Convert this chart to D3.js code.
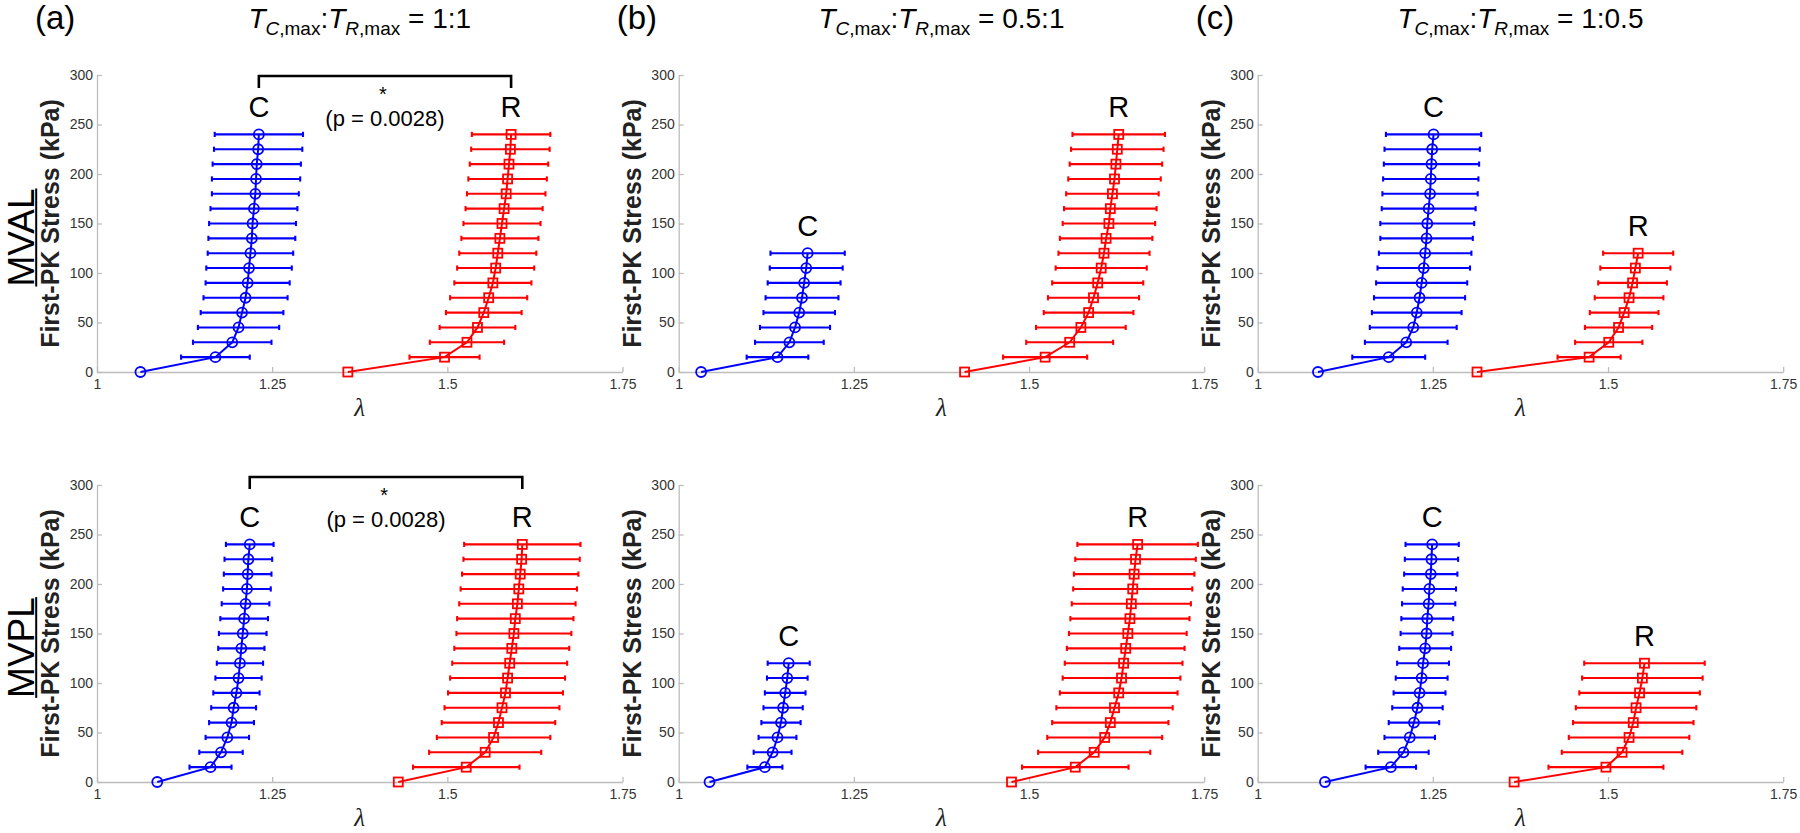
<!DOCTYPE html>
<html>
<head>
<meta charset="utf-8">
<script src="https://cdn.jsdelivr.net/npm/d3@7"></script>
<style>
  body { margin: 0; background: #fff; }
  text { font-family: "Liberation Sans", Arial, Helvetica, sans-serif; }
</style>
</head>
<body>
<script>
// stress levels (kPa) at which stretch was sampled
const stressFull = [0, 15, 30, 45, 60, 75, 90, 105, 120, 135, 150, 165, 180, 195, 210, 225, 240];
const stressHalf = [0, 15, 30, 45, 60, 75, 90, 105, 120];

const xTicks = [1, 1.25, 1.5, 1.75];
const yTicks = [0, 50, 100, 150, 200, 250, 300];
const rowNames = ['MVAL', 'MVPL'];
const colLetters = ['(a)', '(b)', '(c)'];
const ratioC = ['1', '0.5', '1'];
const ratioR = ['1', '1', '0.5'];
const pText = '(p = 0.0028)';

// (a) MVAL, 1:1
const mvalC_a    = [1.062, 1.169, 1.193, 1.202, 1.207, 1.212, 1.215, 1.217, 1.219, 1.221, 1.222, 1.224, 1.226, 1.227, 1.228, 1.230, 1.231];
const mvalCErr_a = [null, 0.049, 0.056, 0.058, 0.059, 0.060, 0.060, 0.061, 0.061, 0.062, 0.062, 0.062, 0.062, 0.063, 0.063, 0.063, 0.063];
const mvalR_a    = [1.358, 1.496, 1.528, 1.543, 1.552, 1.559, 1.565, 1.569, 1.572, 1.575, 1.578, 1.581, 1.584, 1.586, 1.588, 1.590, 1.591];
const mvalRErr_a = [null, 0.050, 0.053, 0.054, 0.054, 0.055, 0.055, 0.055, 0.055, 0.055, 0.055, 0.055, 0.056, 0.056, 0.056, 0.056, 0.056];

// (b) MVAL, 0.5:1
const mvalC_b    = [1.032, 1.141, 1.158, 1.166, 1.172, 1.176, 1.179, 1.182, 1.184];
const mvalCErr_b = [null, 0.044, 0.049, 0.050, 0.051, 0.052, 0.052, 0.052, 0.053];
const mvalR_b    = [1.408, 1.523, 1.558, 1.574, 1.585, 1.592, 1.598, 1.603, 1.607, 1.610, 1.614, 1.616, 1.619, 1.622, 1.624, 1.626, 1.628];
const mvalRErr_b = [null, 0.060, 0.062, 0.064, 0.064, 0.065, 0.065, 0.065, 0.065, 0.066, 0.066, 0.066, 0.066, 0.066, 0.066, 0.066, 0.066];

// (c) MVAL, 1:0.5
const mvalC_c    = [1.086, 1.187, 1.212, 1.222, 1.227, 1.231, 1.234, 1.237, 1.239, 1.241, 1.242, 1.244, 1.246, 1.247, 1.248, 1.249, 1.251];
const mvalCErr_c = [null, 0.052, 0.059, 0.062, 0.064, 0.065, 0.065, 0.066, 0.066, 0.066, 0.067, 0.067, 0.068, 0.068, 0.068, 0.068, 0.068];
const mvalR_c    = [1.313, 1.473, 1.501, 1.515, 1.523, 1.530, 1.535, 1.539, 1.543];
const mvalRErr_c = [null, 0.045, 0.048, 0.048, 0.049, 0.049, 0.049, 0.050, 0.050];

// (a) MVPL, 1:1
const mvplC_a    = [1.086, 1.162, 1.177, 1.186, 1.192, 1.195, 1.199, 1.202, 1.204, 1.206, 1.208, 1.210, 1.212, 1.214, 1.215, 1.216, 1.218];
const mvplCErr_a = [null, 0.030, 0.031, 0.031, 0.032, 0.032, 0.033, 0.033, 0.033, 0.033, 0.034, 0.034, 0.034, 0.034, 0.034, 0.034, 0.034];
const mvplR_a    = [1.430, 1.527, 1.554, 1.566, 1.573, 1.578, 1.583, 1.586, 1.589, 1.592, 1.595, 1.597, 1.600, 1.602, 1.604, 1.606, 1.607];
const mvplRErr_a = [null, 0.076, 0.080, 0.081, 0.081, 0.082, 0.082, 0.082, 0.082, 0.082, 0.082, 0.083, 0.083, 0.083, 0.083, 0.083, 0.083];

// (b) MVPL, 0.5:1
const mvplC_b    = [1.044, 1.123, 1.134, 1.141, 1.146, 1.149, 1.152, 1.155, 1.157];
const mvplCErr_b = [null, 0.025, 0.027, 0.027, 0.028, 0.028, 0.029, 0.029, 0.030];
const mvplR_b    = [1.475, 1.566, 1.593, 1.608, 1.616, 1.622, 1.628, 1.632, 1.635, 1.638, 1.641, 1.644, 1.646, 1.648, 1.650, 1.652, 1.655];
const mvplRErr_b = [null, 0.076, 0.080, 0.082, 0.083, 0.083, 0.084, 0.084, 0.084, 0.084, 0.084, 0.085, 0.085, 0.085, 0.086, 0.086, 0.086];

// (c) MVPL, 1:0.5
const mvplC_c    = [1.096, 1.190, 1.208, 1.217, 1.223, 1.228, 1.231, 1.234, 1.236, 1.239, 1.241, 1.242, 1.244, 1.245, 1.247, 1.248, 1.249];
const mvplCErr_c = [null, 0.036, 0.036, 0.036, 0.036, 0.036, 0.037, 0.037, 0.037, 0.037, 0.037, 0.037, 0.038, 0.038, 0.038, 0.038, 0.038];
const mvplR_c    = [1.366, 1.497, 1.520, 1.530, 1.536, 1.540, 1.545, 1.549, 1.552];
const mvplRErr_c = [null, 0.082, 0.086, 0.086, 0.086, 0.086, 0.086, 0.086, 0.086];

const panels = [
  { row: 0, col: 0, c: mvalC_a, cErr: mvalCErr_a, cS: stressFull, r: mvalR_a, rErr: mvalRErr_a, rS: stressFull, sig: true },
  { row: 0, col: 1, c: mvalC_b, cErr: mvalCErr_b, cS: stressHalf, r: mvalR_b, rErr: mvalRErr_b, rS: stressFull },
  { row: 0, col: 2, c: mvalC_c, cErr: mvalCErr_c, cS: stressFull, r: mvalR_c, rErr: mvalRErr_c, rS: stressHalf },
  { row: 1, col: 0, c: mvplC_a, cErr: mvplCErr_a, cS: stressFull, r: mvplR_a, rErr: mvplRErr_a, rS: stressFull, sig: true },
  { row: 1, col: 1, c: mvplC_b, cErr: mvplCErr_b, cS: stressHalf, r: mvplR_b, rErr: mvplRErr_b, rS: stressFull },
  { row: 1, col: 2, c: mvplC_c, cErr: mvplCErr_c, cS: stressFull, r: mvplR_c, rErr: mvplRErr_c, rS: stressHalf }
];

// layout
const colX0 = [97, 678.7, 1257.7];
const rowY0 = [372, 782];
const PW = 525.5, PH = 297;
const axisGrey = '#bdbdbd';
const labelGrey = '#333';

const svg = d3.select('body').append('svg')
  .attr('width', 1800)
  .attr('height', 833);

function drawSeries(g, x, y, means, errs, stress, color, shape) {
  const pts = means.map((m, i) => ({ m, e: errs[i], s: stress[i] }));

  //horizontal error bars with small caps
  const eb = g.append('g')
    .attr('stroke', color)
    .attr('stroke-width', 2.1);
  pts.filter(d => d.e).forEach(d => {
    const yy = y(d.s), xl = x(d.m - d.e), xr = x(d.m + d.e);
    eb.append('line').attr('x1', xl).attr('x2', xr).attr('y1', yy).attr('y2', yy);
    eb.append('line').attr('x1', xl).attr('x2', xl).attr('y1', yy - 2.6).attr('y2', yy + 2.6);
    eb.append('line').attr('x1', xr).attr('x2', xr).attr('y1', yy - 2.6).attr('y2', yy + 2.6);
  });

  g.append('path')
    .datum(pts)
    .attr('fill', 'none')
    .attr('stroke', color)
    .attr('stroke-width', 2)
    .attr('d', d3.line().x(d => x(d.m)).y(d => y(d.s)));

  if (shape === 'circle') {
    g.selectAll(null).data(pts).enter()
      .append('circle')
        .attr('cx', d => x(d.m))
        .attr('cy', d => y(d.s))
        .attr('r', 5)
        .attr('fill', 'none')
        .attr('stroke', color)
        .attr('stroke-width', 1.8);
  } else {
    g.selectAll(null).data(pts).enter()
      .append('rect')
        .attr('x', d => x(d.m) - 4.5)
        .attr('y', d => y(d.s) - 4.5)
        .attr('width', 9)
        .attr('height', 9)
        .attr('fill', 'none')
        .attr('stroke', color)
        .attr('stroke-width', 1.8);
  }

  return pts[pts.length - 1];
}

panels.forEach(p => {
  const x0 = colX0[p.col];
  const yb = rowY0[p.row];
  const x = d3.scaleLinear().domain([1, 1.75]).range([x0, x0 + PW]);
  const y = d3.scaleLinear().domain([0, 300]).range([yb, yb - PH]);
  const g = svg.append('g');

  const xAxis = d3.axisBottom(x)
    .tickValues(xTicks)
    .tickFormat(d => d)
    .tickSizeInner(-5)
    .tickSizeOuter(0)
    .tickPadding(7);
  const yAxis = d3.axisLeft(y)
    .tickValues(yTicks)
    .tickSizeInner(-5)
    .tickSizeOuter(0)
    .tickPadding(4);

  const gx = g.append('g').attr('transform', `translate(0, ${yb})`).call(xAxis);
  const gy = g.append('g').attr('transform', `translate(${x0}, 0)`).call(yAxis);
  [gx, gy].forEach(a => {
    a.attr('font-family', null).attr('font-size', null);
    a.selectAll('.domain, .tick line').attr('stroke', axisGrey).attr('stroke-width', 1.3);
    a.selectAll('.tick text').attr('fill', labelGrey).style('font-size', '14px');
  });

  //axis titles
  g.append('text')
    .attr('transform', `translate(${x0 - 38}, ${yb - PH / 2}) rotate(-90)`)
    .attr('text-anchor', 'middle')
    .style('font-size', '25px')
    .style('font-weight', 'bold')
    .attr('fill', '#222')
    .text('First-PK Stress (kPa)');

  g.append('text')
    .attr('x', x0 + PW / 2)
    .attr('y', yb + 44)
    .attr('text-anchor', 'middle')
    .style('font-family', '"Liberation Serif", "DejaVu Serif", serif')
    .style('font-style', 'italic')
    .style('font-size', '25px')
    .attr('fill', '#222')
    .text('λ');

  const topC = drawSeries(g, x, y, p.c, p.cErr, p.cS, '#0000ff', 'circle');
  const topR = drawSeries(g, x, y, p.r, p.rErr, p.rS, '#ff0000', 'square');

  //C / R label above the last point
  [[topC, 'C'], [topR, 'R']].forEach(([d, lab]) => {
    g.append('text')
      .attr('x', x(d.m))
      .attr('y', y(d.s) - 17)
      .attr('text-anchor', 'middle')
      .style('font-size', '29px')
      .attr('fill', '#000')
      .text(lab);
  });

  //significance bracket
  if (p.sig) {
    const by = y(300) + (p.row === 0 ? 1 : -8);
    const xc = x(topC.m), xr = x(topR.m);
    g.append('path')
      .attr('d', `M${xc},${by + 12}V${by}H${xr}V${by + 12}`)
      .attr('fill', 'none')
      .attr('stroke', '#000')
      .attr('stroke-width', 2.6);
    g.append('text')
      .attr('x', (xc + xr) / 2 - 2)
      .attr('y', by + 25)
      .attr('text-anchor', 'middle')
      .style('font-size', '20px')
      .text('*');
    g.append('text')
      .attr('x', (xc + xr) / 2)
      .attr('y', by + 50)
      .attr('text-anchor', 'middle')
      .style('font-size', '22px')
      .text(pText);
  }
});

//column headings
colX0.forEach((x0, i) => {
  svg.append('text')
    .attr('x', x0 - 62)
    .attr('y', 29)
    .style('font-size', '33px')
    .text(colLetters[i]);

  const t = svg.append('text')
    .attr('x', x0 + PW / 2)
    .attr('y', 28)
    .attr('text-anchor', 'middle')
    .style('font-size', '28px');
  t.append('tspan').style('font-style', 'italic').text('T');
  t.append('tspan').attr('dy', 7).style('font-size', '19px').style('font-style', 'italic').text('C');
  t.append('tspan').style('font-size', '19px').text(',max');
  t.append('tspan').attr('dy', -7).text(':');
  t.append('tspan').style('font-style', 'italic').text('T');
  t.append('tspan').attr('dy', 7).style('font-size', '19px').style('font-style', 'italic').text('R');
  t.append('tspan').style('font-size', '19px').text(',max');
  t.append('tspan').attr('dy', -7).text(` = ${ratioC[i]}:${ratioR[i]}`);
});

//row headings, underlined
rowY0.forEach((yb, i) => {
  const cy = yb - PH / 2 + 14;
  const lab = svg.append('text')
    .attr('transform', `translate(34, ${cy}) rotate(-90)`)
    .attr('text-anchor', 'middle')
    .style('font-size', '37px')
    .text(rowNames[i]);
  const len = lab.node().getComputedTextLength();
  svg.append('line')
    .attr('x1', 36.2).attr('x2', 36.2)
    .attr('y1', cy - len / 2).attr('y2', cy + len / 2)
    .attr('stroke', '#000')
    .attr('stroke-width', 2);
});
</script>
</body>
</html>
